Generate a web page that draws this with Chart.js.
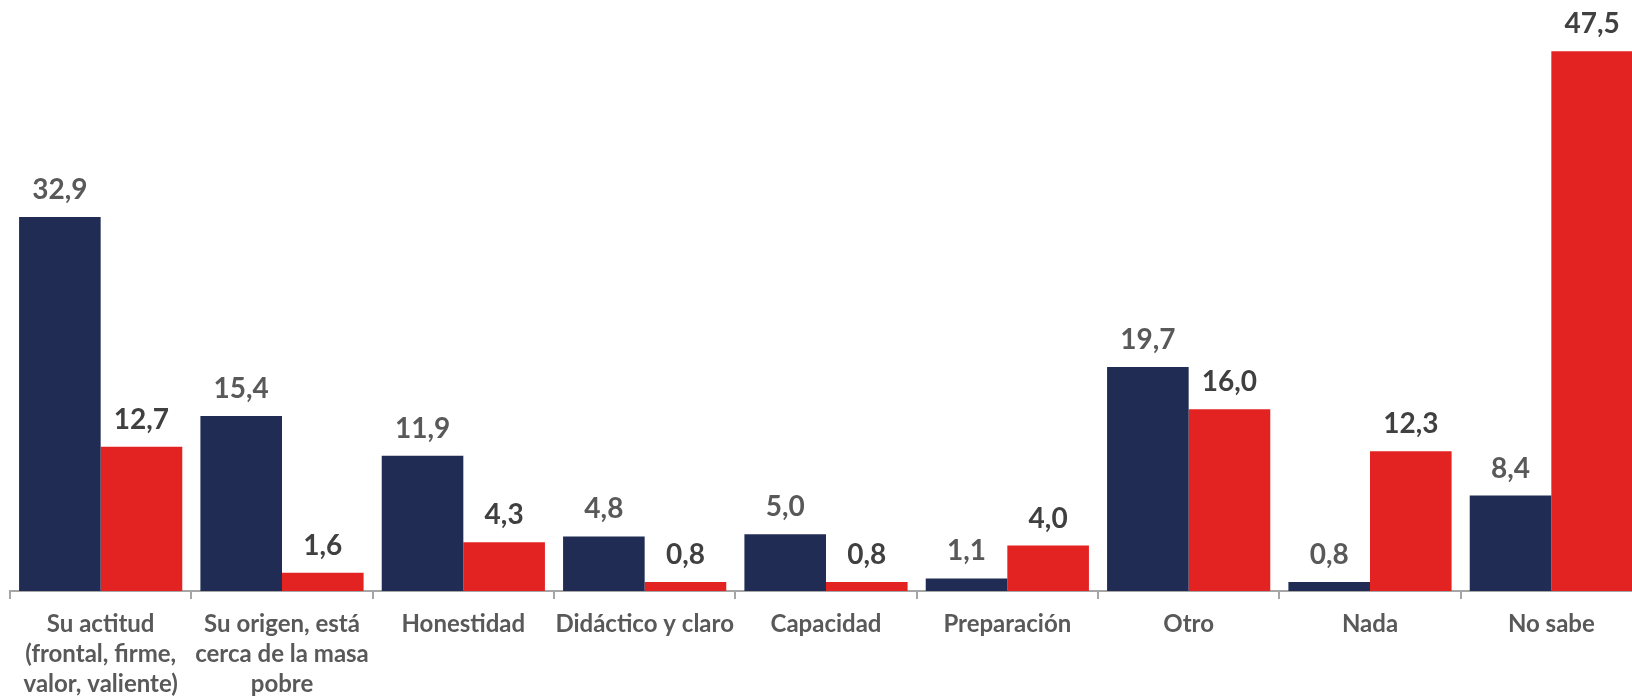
<!DOCTYPE html>
<html>
<head>
<meta charset="utf-8">
<script src="https://cdn.jsdelivr.net/npm/chart.js@4/dist/chart.umd.min.js"></script>
<style>
    html, body { margin: 0; padding: 0; background: #ffffff; }
    #wrap { width: 1632px; height: 696px; overflow: hidden; position: relative; }
    #box { position: absolute; left: 0; top: 0; width: 1650px; height: 696px; }
</style>
</head>
<body>
<div id="wrap"><div id="box"><canvas id="barChart"></canvas></div></div>
<script>
// Catégories (axe X)
const categories = [
    ['Su actitud', '(frontal, firme,', 'valor, valiente)'],
    ['Su origen, está', 'cerca de la masa', 'pobre'],
    'Honestidad',
    'Didáctico y claro',
    'Capacidad',
    'Preparación',
    'Otro',
    'Nada',
    'No sabe'
];

// Séries
const serieBleue = [32.9, 15.4, 11.9, 4.8, 5.0, 1.1, 19.7, 0.8, 8.4];
const serieRouge = [12.7, 1.6, 4.3, 0.8, 0.8, 4.0, 16.0, 12.3, 47.5];

const navy = '#212C55';
const red = '#E32322';

// Étiquettes de valeur au-dessus des barres
const valueLabels = {
    id: 'valueLabels',
    afterDatasetsDraw(chart) {
        const ctx = chart.ctx;
        ctx.save();
        ctx.font = 'bold 28px Lato';
        ctx.textAlign = 'center';
        ctx.textBaseline = 'alphabetic';
        chart.data.datasets.forEach((ds, i) => {
            const meta = chart.getDatasetMeta(i);
            ctx.fillStyle = i === 0 ? '#595959' : '#404040';
            meta.data.forEach((bar, j) => {
                const txt = ds.data[j].toFixed(1).replace('.', ',');
                ctx.fillText(txt, bar.x, bar.y - 18);
            });
        });
        ctx.restore();
    }
};

const ctx = document.getElementById('barChart');

new Chart(ctx, {
    type: 'bar',
    data: {
        labels: categories,
        datasets: [{
            data: serieBleue,
            backgroundColor: navy,
            borderWidth: 0,
            categoryPercentage: 0.9,
            barPercentage: 1.0
        }, {
            data: serieRouge,
            backgroundColor: red,
            borderWidth: 0,
            categoryPercentage: 0.9,
            barPercentage: 1.0
        }]
    },
    options: {
        responsive: true,
        maintainAspectRatio: false,
        animation: false,
        layout: {
            padding: { left: 10, right: 8, top: 0, bottom: 0 }
        },
        plugins: {
            legend: { display: false },
            tooltip: { enabled: false }
        },
        scales: {
            y: {
                display: false,
                min: 0,
                max: 52
            },
            x: {
                afterFit: (scale) => { scale.height = 105; },
                border: {
                    display: true,
                    color: '#A6A6A6',
                    width: 2
                },
                grid: {
                    offset: true,
                    drawOnChartArea: false,
                    drawTicks: true,
                    tickLength: 8,
                    color: '#A6A6A6',
                    lineWidth: 2
                },
                ticks: {
                    color: '#595959',
                    padding: 10,
                    maxRotation: 0,
                    autoSkip: false,
                    font: {
                        family: 'Lato',
                        size: 24,
                        weight: 'bold',
                        lineHeight: 1.25
                    }
                }
            }
        }
    },
    plugins: [valueLabels]
});
</script>
</body>
</html>
